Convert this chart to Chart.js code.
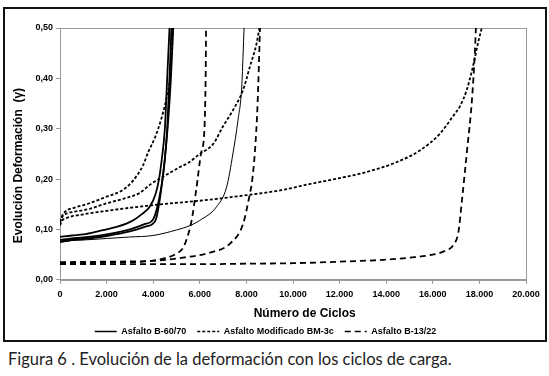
<!DOCTYPE html>
<html><head><meta charset="utf-8">
<script src="https://cdn.jsdelivr.net/npm/chart.js@4/dist/chart.umd.min.js"></script>
<style>
html,body{margin:0;padding:0;background:#fff;}
#frame{position:absolute;left:3px;top:7px;width:540px;height:331px;border:2px solid #111;}
#c{display:block;}
#cap{position:absolute;left:8px;top:349px;font-family:'Lato','Open Sans',sans-serif;font-size:16.5px;color:#222;white-space:nowrap;}
</style></head><body>
<div id="frame"><canvas id="c" width="540" height="331"></canvas></div>
<div id="cap">Figura 6 . Evolución de la deformación con los ciclos de carga.</div>
<script>
// ---- Data ----
const seriesNames = ['Asfalto B-60/70', 'Asfalto Modificado BM-3c', 'Asfalto B-13/22'];

// Asfalto B-60/70 (solid)
const b6070_1X = [0,500,1000,1700,2500,3100,3500,3850,4100,4250,4370,4500,4600,4700];
const b6070_1Y = [0.085,0.088,0.090,0.097,0.106,0.117,0.130,0.145,0.170,0.200,0.240,0.300,0.400,0.500];
const b6070_2X = [0,500,1000,2000,3000,3600,4000,4150,4250,4400,4500,4600,4700,4780];
const b6070_2Y = [0.079,0.082,0.084,0.090,0.100,0.110,0.120,0.140,0.160,0.200,0.240,0.300,0.400,0.500];
const b6070_3X = [0,500,1000,2000,3000,3700,4100,4250,4400,4500,4650,4760,4860];
const b6070_3Y = [0.076,0.079,0.081,0.087,0.096,0.106,0.118,0.150,0.200,0.240,0.320,0.400,0.500];
const b6070_4X = [0,500,1000,2000,3000,4000,5000,5600,6000,6700,7150,7420,7640,7800,7860,7900];
const b6070_4Y = [0.074,0.078,0.079,0.082,0.085,0.088,0.099,0.108,0.118,0.144,0.184,0.250,0.317,0.383,0.450,0.500];

// Asfalto Modificado BM-3c (short dash)
const bm3c_1X = [0,100,300,600,1200,2000,2650,3000,3300,3560,3800,4080,4350,4580,4720,4790,4850];
const bm3c_1Y = [0.115,0.128,0.138,0.143,0.151,0.165,0.177,0.190,0.207,0.227,0.255,0.283,0.320,0.363,0.403,0.463,0.500];
const bm3c_2X = [0,100,300,600,1200,2000,2800,3400,3900,4400,5150,5500,6000,6580,7000,7400,7850,8150,8440,8560];
const bm3c_2Y = [0.113,0.125,0.132,0.135,0.140,0.152,0.162,0.172,0.190,0.204,0.224,0.232,0.250,0.270,0.305,0.335,0.376,0.423,0.470,0.500];
const bm3c_3X = [0,100,300,1000,1700,3000,4580,6000,8000,9500,10700,12000,12900,14300,15450,16300,16870,17170,17450,17720,17940,18100];
const bm3c_3Y = [0.108,0.118,0.123,0.130,0.135,0.143,0.151,0.157,0.168,0.178,0.190,0.202,0.211,0.231,0.257,0.290,0.325,0.345,0.376,0.423,0.470,0.500];

// Asfalto B-13/22 (long dash)
const b1322_1X = [0,1000,2000,3000,4000,4500,5000,5300,5500,5650,5850,6050,6200,6250,6270];
const b1322_1Y = [0.033,0.033,0.034,0.035,0.038,0.043,0.052,0.065,0.090,0.118,0.180,0.250,0.300,0.400,0.500];
const b1322_2X = [0,2000,4160,5280,6440,7300,7850,8150,8230,8370,8480,8584];
const b1322_2Y = [0.035,0.036,0.038,0.044,0.054,0.072,0.110,0.171,0.191,0.257,0.350,0.500];
const b1322_3X = [0,2000,4000,6000,8000,10000,12000,14000,15000,16000,16500,16900,17100,17250,17470,17680,17810,17850];
const b1322_3Y = [0.031,0.031,0.031,0.031,0.032,0.033,0.036,0.040,0.044,0.050,0.057,0.070,0.095,0.157,0.257,0.357,0.456,0.500];

// Axis ranges / ticks
const xMin = 0, xMax = 20000, xStep = 2000;
const yMin = 0, yMax = 0.5, yStep = 0.1;
const xTitle = '       Número de Ciclos';
const yTitle = 'Evolución Deformación  (γ)       ';

// ---- Build chart ----
const pts = (xs, ys) => xs.map((x, i) => ({x, y: ys[i]}));
const styles = [
  {borderDash: [], borderWidth: 1.8},
  {borderDash: [3, 2], borderWidth: 1.8},
  {borderDash: [6, 4], borderWidth: 1.8}
];
function ds(series, xs, ys, width) {
  const st = styles[series];
  return {
    label: seriesNames[series],
    data: pts(xs, ys),
    borderColor: '#000',
    backgroundColor: '#000',
    borderWidth: width || st.borderWidth,
    borderDash: st.borderDash,
    showLine: true,
    pointRadius: 0,
    fill: false,
    cubicInterpolationMode: 'monotone'
  };
}
const datasets = [
  ds(0, b6070_1X, b6070_1Y), ds(0, b6070_2X, b6070_2Y), ds(0, b6070_3X, b6070_3Y), ds(0, b6070_4X, b6070_4Y, 1),
  ds(1, bm3c_1X, bm3c_1Y), ds(1, bm3c_2X, bm3c_2Y), ds(1, bm3c_3X, bm3c_3Y),
  ds(2, b1322_1X, b1322_1Y), ds(2, b1322_2X, b1322_2Y), ds(2, b1322_3X, b1322_3Y)
];

const plotBorder = {
  id: 'plotBorder',
  beforeDatasetsDraw(chart) {
    const {ctx, chartArea: a} = chart;
    ctx.save();
    ctx.strokeStyle = '#9a9a9a';
    ctx.lineWidth = 1;
    ctx.strokeRect(Math.round(a.left) + 0.5, Math.round(a.top) + 0.5, Math.round(a.right - a.left), Math.round(a.bottom - a.top));
    ctx.restore();
  }
};

const baseFont = "'Liberation Sans', Arial, sans-serif";
new Chart(document.getElementById('c'), {
  type: 'scatter',
  data: {datasets},
  plugins: [plotBorder],
  options: {
    responsive: false,
    animation: false,
    layout: {padding: {top: 19, right: 19, left: 0, bottom: -6}},
    plugins: {
      tooltip: {enabled: false},
      legend: {
        position: 'bottom',
        labels: {
          usePointStyle: true,
          pointStyleWidth: 22,
          boxHeight: 9,
          padding: 6,
          color: '#000',
          font: {family: baseFont, size: 9, weight: 'bold'},
          generateLabels: () => seriesNames.map((name, i) => ({
            text: i < seriesNames.length - 1 ? name + '  ' : name,
            fillStyle: '#000',
            strokeStyle: '#000',
            fontColor: '#000',
            lineWidth: 1.5,
            lineDash: styles[i].borderDash,
            pointStyle: 'line',
            hidden: false,
            datasetIndex: i
          }))
        }
      }
    },
    scales: {
      x: {
        type: 'linear', min: xMin, max: xMax,
        ticks: {stepSize: xStep, color: '#000', padding: 5, maxRotation: 0,
          font: {family: baseFont, size: 9, weight: 'bold'},
          callback: v => v.toLocaleString('de-DE')},
        grid: {drawOnChartArea: false, tickLength: 4, color: '#999'},
        border: {color: '#999'},
        title: {display: true, text: xTitle, color: '#000', padding: {top: 2, bottom: 0},
          font: {family: baseFont, size: 12, weight: 'bold'}}
      },
      y: {
        min: yMin, max: yMax,
        afterFit: s => { s.width = 55; },
        ticks: {stepSize: yStep, color: '#000', padding: 3,
          font: {family: baseFont, size: 9, weight: 'bold'},
          callback: v => v.toFixed(2).replace('.', ',')},
        grid: {drawOnChartArea: false, tickLength: 4, color: '#999'},
        border: {color: '#999'},
        title: {display: true, text: yTitle, color: '#000', padding: {top: 6, bottom: 2},
          font: {family: baseFont, size: 12, weight: 'bold'}}
      }
    }
  }
});
</script>
</body></html>
